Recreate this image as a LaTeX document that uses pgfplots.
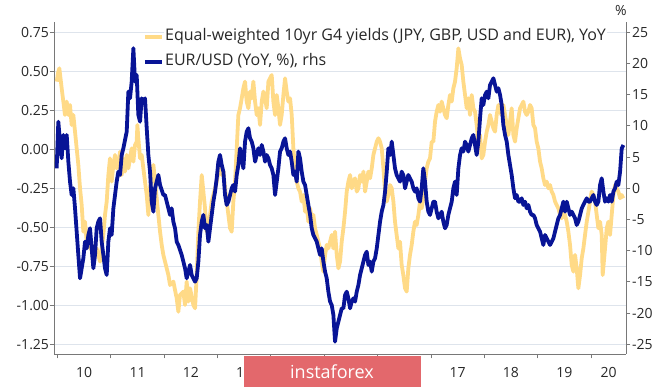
\documentclass[border=0pt]{standalone}
\usepackage{fontspec}
\setmainfont{Open Sans}
\usepackage{pgfplots}
\usepackage{pgfplotstable}
\pgfplotsset{compat=1.18}
\definecolor{yel}{RGB}{255,218,135}
\definecolor{navy}{RGB}{8,20,150}
\definecolor{gridc}{RGB}{222,228,236}
\definecolor{axc}{RGB}{120,120,120}
\definecolor{wm}{RGB}{227,104,108}
\definecolor{txt}{RGB}{40,40,40}

\pgfplotstableread{
year val
2009.984 0.434
2010.015 0.498
2010.034 0.519
2010.078 0.391
2010.109 0.306
2010.140 0.220
2010.172 0.306
2010.203 0.220
2010.234 0.284
2010.265 0.156
2010.297 0.220
2010.328 0.113
2010.359 0.006
2010.390 -0.100
2010.422 -0.250
2010.453 -0.357
2010.484 -0.528
2010.515 -0.464
2010.547 -0.592
2010.578 -0.549
2010.609 -0.635
2010.640 -0.613
2010.672 -0.720
2010.703 -0.656
2010.734 -0.635
2010.765 -0.677
2010.797 -0.720
2010.828 -0.635
2010.859 -0.549
2010.890 -0.421
2010.922 -0.335
2010.953 -0.165
2010.984 -0.058
2011.015 -0.207
2011.047 -0.100
2011.078 -0.036
2011.109 -0.122
2011.140 -0.100
2011.172 -0.015
2011.203 -0.165
2011.234 -0.058
2011.265 -0.143
2011.297 -0.036
2011.328 -0.122
2011.359 -0.058
2011.390 0.006
2011.422 -0.079
2011.453 0.028
2011.484 0.049
2011.497 0.156
2011.515 0.071
2011.547 -0.058
2011.578 -0.036
2011.609 -0.122
2011.640 -0.207
2011.672 -0.293
2011.703 -0.421
2011.734 -0.250
2011.765 -0.165
2011.797 -0.100
2011.828 -0.207
2011.859 -0.314
2011.890 -0.421
2011.922 -0.528
2011.953 -0.613
2011.984 -0.677
2012.015 -0.720
2012.078 -0.806
2012.109 -0.870
2012.171 -0.848
2012.234 -0.955
2012.265 -1.041
2012.296 -0.934
2012.359 -0.912
2012.390 -0.998
2012.421 -0.848
2012.453 -0.976
2012.484 -0.891
2012.546 -0.998
2012.578 -1.019
2012.609 -0.806
2012.640 -0.528
2012.671 -0.335
2012.703 -0.165
2012.734 -0.271
2012.765 -0.378
2012.796 -0.528
2012.828 -0.464
2012.859 -0.421
2012.890 -0.335
2012.921 -0.293
2012.953 -0.250
2012.984 -0.207
2013.015 -0.143
2013.046 -0.100
2013.078 -0.165
2013.109 -0.143
2013.140 -0.250
2013.171 -0.335
2013.203 -0.421
2013.234 -0.506
2013.265 -0.528
2013.296 -0.335
2013.328 -0.207
2013.359 0.006
2013.390 0.220
2013.421 0.263
2013.453 0.327
2013.484 0.391
2013.515 0.434
2013.546 0.306
2013.578 0.263
2013.609 0.370
2013.640 0.327
2013.671 0.434
2013.703 0.306
2013.734 0.220
2013.765 0.263
2013.796 0.156
2013.828 0.306
2013.859 0.370
2013.890 0.327
2013.921 0.263
2013.953 0.434
2013.984 0.455
2014.015 0.476
2014.046 0.306
2014.078 0.220
2014.109 0.348
2014.140 0.263
2014.171 0.156
2014.202 0.220
2014.234 0.348
2014.265 0.455
2014.296 0.370
2014.327 0.306
2014.359 0.327
2014.390 0.220
2014.421 0.006
2014.452 -0.122
2014.484 -0.207
2014.515 -0.250
2014.546 -0.271
2014.577 -0.335
2014.609 -0.293
2014.640 -0.400
2014.671 -0.357
2014.702 -0.464
2014.734 -0.378
2014.765 -0.442
2014.796 -0.421
2014.827 -0.506
2014.859 -0.549
2014.890 -0.592
2014.921 -0.635
2014.952 -0.720
2014.984 -0.784
2015.015 -0.677
2015.046 -0.613
2015.077 -0.635
2015.109 -0.592
2015.140 -0.549
2015.171 -0.635
2015.202 -0.528
2015.234 -0.677
2015.265 -0.763
2015.296 -0.720
2015.327 -0.592
2015.359 -0.506
2015.390 -0.400
2015.421 -0.271
2015.452 -0.207
2015.484 -0.165
2015.515 -0.250
2015.546 -0.207
2015.577 -0.186
2015.609 -0.271
2015.640 -0.250
2015.671 -0.165
2015.702 -0.207
2015.734 -0.143
2015.765 -0.271
2015.796 -0.207
2015.827 -0.143
2015.859 -0.186
2015.890 -0.122
2015.921 -0.036
2015.952 0.006
2015.984 0.049
2016.015 0.071
2016.046 0.049
2016.077 0.006
2016.109 -0.122
2016.140 -0.271
2016.171 -0.335
2016.202 -0.293
2016.234 -0.229
2016.265 -0.250
2016.296 -0.335
2016.326 -0.464
2016.357 -0.549
2016.389 -0.635
2016.420 -0.592
2016.451 -0.741
2016.482 -0.806
2016.514 -0.891
2016.545 -0.912
2016.576 -0.763
2016.607 -0.677
2016.639 -0.613
2016.670 -0.528
2016.701 -0.464
2016.732 -0.485
2016.764 -0.421
2016.795 -0.335
2016.826 -0.378
2016.857 -0.314
2016.889 -0.207
2016.920 -0.122
2016.951 -0.079
2016.982 -0.058
2017.014 0.049
2017.045 0.049
2017.076 0.177
2017.107 0.241
2017.139 0.284
2017.170 0.241
2017.201 0.306
2017.232 0.263
2017.264 0.220
2017.295 0.199
2017.326 0.284
2017.357 0.348
2017.389 0.306
2017.420 0.391
2017.451 0.434
2017.482 0.519
2017.514 0.647
2017.545 0.583
2017.576 0.541
2017.607 0.434
2017.639 0.348
2017.670 0.263
2017.701 0.327
2017.732 0.220
2017.764 0.348
2017.795 0.263
2017.826 0.241
2017.857 0.156
2017.889 0.049
2017.920 0.092
2017.951 -0.058
2017.982 -0.036
2018.014 0.049
2018.045 0.113
2018.076 0.156
2018.107 0.220
2018.139 0.177
2018.170 0.135
2018.201 0.113
2018.232 0.220
2018.264 0.284
2018.295 0.241
2018.326 0.220
2018.357 0.284
2018.389 0.220
2018.420 0.156
2018.451 0.092
2018.482 0.177
2018.513 0.263
2018.545 0.092
2018.576 0.049
2018.607 0.135
2018.638 0.199
2018.670 0.263
2018.701 0.284
2018.732 0.306
2018.763 0.241
2018.795 0.220
2018.826 0.241
2018.857 0.284
2018.888 0.263
2018.920 0.156
2018.951 0.135
2018.982 0.049
2019.013 0.006
2019.045 -0.079
2019.076 -0.122
2019.107 -0.186
2019.138 -0.229
2019.170 -0.207
2019.201 -0.250
2019.232 -0.229
2019.263 -0.271
2019.295 -0.293
2019.326 -0.335
2019.357 -0.357
2019.388 -0.378
2019.420 -0.421
2019.451 -0.442
2019.482 -0.400
2019.513 -0.421
2019.545 -0.464
2019.576 -0.528
2019.607 -0.613
2019.638 -0.741
2019.670 -0.784
2019.701 -0.677
2019.732 -0.763
2019.763 -0.891
2019.795 -0.806
2019.826 -0.699
2019.857 -0.635
2019.888 -0.549
2019.920 -0.464
2019.951 -0.400
2019.982 -0.335
2020.013 -0.271
2020.045 -0.293
2020.076 -0.335
2020.107 -0.421
2020.138 -0.506
2020.170 -0.464
2020.201 -0.549
2020.219 -0.806
2020.263 -0.635
2020.295 -0.506
2020.326 -0.464
2020.357 -0.549
2020.388 -0.421
2020.420 -0.293
2020.451 -0.229
2020.482 -0.250
2020.513 -0.271
2020.545 -0.314
2020.576 -0.293
2020.607 -0.314
}\yields

\pgfplotstableread{
year val
2009.984 3.20
2010.015 10.68
2010.047 7.48
2010.078 4.81
2010.109 8.55
2010.140 6.41
2010.172 8.55
2010.203 4.27
2010.234 1.07
2010.265 -1.07
2010.297 0.00
2010.328 -3.21
2010.359 -6.94
2010.390 -10.68
2010.422 -14.42
2010.453 -12.82
2010.484 -11.22
2010.515 -8.55
2010.547 -9.62
2010.578 -7.48
2010.609 -6.41
2010.640 -9.62
2010.672 -12.82
2010.703 -10.68
2010.734 -6.41
2010.765 -5.34
2010.797 -4.81
2010.828 -8.55
2010.859 -10.68
2010.890 -12.82
2010.922 -13.89
2010.953 -8.55
2010.984 -6.41
2011.015 -7.48
2011.047 -3.21
2011.109 1.07
2011.140 2.67
2011.172 2.14
2011.203 5.34
2011.234 6.41
2011.297 9.08
2011.328 15.49
2011.359 14.42
2011.390 17.09
2011.422 22.44
2011.453 17.09
2011.484 18.16
2011.515 11.75
2011.547 10.68
2011.578 14.42
2011.609 13.89
2011.640 14.42
2011.672 9.62
2011.703 5.34
2011.734 2.67
2011.765 -2.14
2011.797 -3.74
2011.828 0.00
2011.859 1.07
2011.890 2.14
2011.922 0.53
2011.984 -1.07
2012.015 -1.07
2012.078 -3.21
2012.109 -4.27
2012.140 -3.21
2012.171 -5.34
2012.203 -6.41
2012.234 -8.55
2012.265 -9.08
2012.328 -10.68
2012.359 -11.75
2012.390 -12.82
2012.421 -14.42
2012.453 -13.35
2012.484 -12.29
2012.515 -13.89
2012.578 -14.96
2012.609 -14.42
2012.640 -11.75
2012.671 -7.48
2012.703 -5.34
2012.734 -4.27
2012.765 -6.41
2012.796 -5.88
2012.828 -8.55
2012.859 -6.41
2012.890 -4.27
2012.921 -2.14
2012.953 -0.53
2012.984 1.60
2013.015 4.27
2013.046 5.34
2013.078 3.74
2013.109 2.67
2013.140 -1.07
2013.171 -2.67
2013.203 -2.14
2013.234 -1.07
2013.265 0.00
2013.296 0.53
2013.328 -0.53
2013.359 2.14
2013.390 3.74
2013.421 6.41
2013.453 4.81
2013.484 3.20
2013.515 7.48
2013.546 9.08
2013.578 9.62
2013.609 8.01
2013.640 7.48
2013.671 6.41
2013.703 4.27
2013.734 5.34
2013.765 6.41
2013.796 5.34
2013.828 6.94
2013.859 5.88
2013.890 4.27
2013.921 5.34
2013.953 4.81
2013.984 3.74
2014.015 3.20
2014.046 2.14
2014.078 -1.07
2014.109 1.07
2014.140 3.20
2014.171 5.88
2014.202 6.41
2014.234 7.48
2014.265 8.01
2014.296 6.41
2014.327 5.34
2014.359 5.88
2014.390 4.27
2014.421 2.14
2014.452 2.67
2014.484 1.07
2014.515 5.88
2014.546 4.81
2014.577 2.67
2014.609 1.07
2014.640 0.53
2014.671 -1.07
2014.702 -2.67
2014.734 -4.27
2014.765 -6.41
2014.796 -7.48
2014.827 -8.01
2014.859 -8.55
2014.890 -9.62
2014.921 -10.68
2014.952 -9.62
2014.984 -11.75
2015.015 -13.35
2015.046 -14.42
2015.077 -16.56
2015.109 -18.16
2015.140 -18.70
2015.171 -20.30
2015.202 -24.57
2015.234 -22.44
2015.265 -21.37
2015.296 -20.30
2015.327 -19.23
2015.359 -19.23
2015.390 -17.09
2015.421 -16.56
2015.452 -17.63
2015.484 -19.23
2015.515 -18.16
2015.546 -17.63
2015.577 -18.16
2015.609 -16.56
2015.640 -15.49
2015.671 -13.89
2015.702 -12.82
2015.734 -11.75
2015.765 -10.68
2015.796 -10.15
2015.827 -12.29
2015.859 -11.75
2015.890 -13.35
2015.921 -11.75
2015.952 -11.22
2015.984 -9.62
2016.015 -7.48
2016.046 -5.34
2016.077 -3.74
2016.109 -2.67
2016.140 -0.53
2016.171 2.67
2016.202 6.41
2016.234 5.34
2016.265 7.48
2016.296 5.34
2016.326 3.20
2016.357 2.14
2016.389 1.60
2016.420 1.07
2016.451 2.67
2016.482 2.14
2016.514 0.00
2016.545 1.07
2016.576 2.14
2016.607 1.60
2016.639 1.07
2016.670 0.00
2016.701 -0.53
2016.732 0.00
2016.764 -1.60
2016.795 -2.14
2016.826 0.00
2016.857 3.20
2016.889 1.07
2016.920 -2.14
2016.951 -3.74
2016.982 -4.27
2017.014 -3.21
2017.045 -2.14
2017.076 -2.14
2017.107 -3.74
2017.139 -4.81
2017.170 -4.27
2017.201 -3.74
2017.232 -5.34
2017.264 -6.41
2017.295 -5.88
2017.326 -4.27
2017.357 -3.21
2017.389 -2.14
2017.420 0.00
2017.451 1.07
2017.482 -1.07
2017.514 3.20
2017.545 5.34
2017.576 6.41
2017.607 5.88
2017.639 7.48
2017.670 6.94
2017.701 5.88
2017.732 6.94
2017.764 8.01
2017.795 8.55
2017.826 6.94
2017.857 5.34
2017.889 7.48
2017.920 11.22
2017.951 14.42
2017.982 13.35
2018.014 14.96
2018.045 15.49
2018.076 14.42
2018.107 16.56
2018.139 17.09
2018.170 17.63
2018.201 16.56
2018.232 15.49
2018.264 16.03
2018.295 14.96
2018.326 13.35
2018.357 10.15
2018.389 8.55
2018.420 7.48
2018.451 5.34
2018.482 3.74
2018.513 2.14
2018.545 0.00
2018.576 -1.60
2018.607 -1.07
2018.638 -2.14
2018.670 -2.14
2018.701 -1.60
2018.732 -2.67
2018.763 -2.14
2018.795 -3.21
2018.826 -2.67
2018.857 -3.74
2018.888 -4.27
2018.920 -4.27
2018.951 -4.81
2018.982 -5.88
2019.013 -6.41
2019.045 -6.94
2019.076 -8.01
2019.107 -9.08
2019.138 -7.48
2019.170 -8.01
2019.201 -8.55
2019.232 -9.08
2019.263 -8.55
2019.295 -8.01
2019.326 -6.94
2019.357 -5.88
2019.388 -4.81
2019.420 -4.27
2019.451 -3.21
2019.482 -2.14
2019.513 -3.74
2019.545 -2.14
2019.576 -3.21
2019.607 -4.27
2019.638 -3.74
2019.670 -4.27
2019.701 -4.81
2019.732 -5.88
2019.763 -5.34
2019.795 -4.27
2019.826 -3.21
2019.857 -2.67
2019.888 -2.14
2019.920 -1.60
2019.951 -2.14
2019.982 -2.14
2020.013 -1.60
2020.045 -1.07
2020.076 -2.14
2020.107 -2.67
2020.138 -2.14
2020.170 0.53
2020.201 1.60
2020.232 -0.53
2020.263 -2.14
2020.295 -1.60
2020.326 -2.14
2020.357 -1.07
2020.388 -2.14
2020.420 -0.53
2020.451 0.00
2020.482 1.07
2020.513 0.53
2020.545 2.67
2020.576 6.41
2020.607 6.94
}\eurusd

\begin{document}
\begin{tikzpicture}
\pgfplotsset{
  common/.style={
    at={(54pt,33pt)}, anchor=south west, scale only axis,
    width=572pt, height=332pt,
    xmin=2009.934, xmax=2020.656,
    every outer x axis line/.append style={-},
    every outer y axis line/.append style={-},
    axis line style={-, draw=axc, line width=0.9pt},
    tick style={draw=axc, line width=0.9pt},
    major tick length=4.5pt,
    tick align=outside,
    ticklabel style={font=\fontsize{14}{16}\selectfont, text=txt},
  }
}
\begin{axis}[common,
  ymin=-1.312, ymax=0.816,
  axis x line*=bottom, axis y line*=left,
  ytick={-1.25,-1,-0.75,-0.5,-0.25,0,0.25,0.5,0.75},
  yticklabels={-1.25,-1.00,-0.75,-0.50,-0.25,0.00,0.25,0.50,0.75},
  yticklabel style={xshift=3pt},
  ymajorgrids, grid style={draw=gridc, line width=0.9pt},
  xtick={2010,2011,2012,2013,2014,2015,2016,2017,2018,2019,2020},
  xticklabels={},
  extra x ticks={2010.5,2011.5,2012.5,2013.5,2016.5,2017.5,2018.5,2019.5,2020.33},
  extra x tick labels={10,11,12,13,16,17,18,19,20},
  extra x tick style={tick style={draw=none}, grid=none, xticklabel style={yshift=-5.5pt}},
]
\addplot[yel, line width=3.8pt, line join=round] table[x=year, y=val] {\yields};
\end{axis}
\begin{axis}[common,
  ymin=-26.55, ymax=26.65,
  axis x line=none, axis y line*=right,
  ytick={-25,-20,-15,-10,-5,0,5,10,15,20,25},
  yticklabels={-25,-20,-15,-10,-5,0,5,10,15,20,25},
  yticklabel style={xshift=-2pt},
  legend style={at={(0.155,0.981)}, anchor=north west, draw=none, fill=none,
    inner sep=0pt, row sep=7.5pt,
    font=\fontsize{16}{18}\selectfont, text=txt,
    nodes={fill=white, inner sep=1.5pt, text height=11pt, text depth=3.5pt}},
  legend cell align=left,
  legend image code/.code={\draw[#1, line width=3.8pt] (0pt,0pt) -- (17pt,0pt);},
]
\addlegendimage{yel}
\addlegendentry{Equal-weighted 10yr G4 yields (JPY, GBP, USD and EUR), YoY}
\addplot[navy, line width=3.8pt, line join=round] table[x=year, y=val] {\eurusd};
\addlegendentry{EUR/USD (YoY, \%), rhs}
\end{axis}
\node[font=\fontsize{14}{16}\selectfont, text=txt] at (621pt,376pt) {\%};
\fill[wm] (244pt,0pt) rectangle (421pt,31pt);
\node[font=\fontsize{18}{20}\selectfont, text=white] at (332pt,15pt) {instaforex};
\pgfresetboundingbox
\path[use as bounding box] (0pt,0pt) rectangle (665pt,387pt);
\end{tikzpicture}
\end{document}
